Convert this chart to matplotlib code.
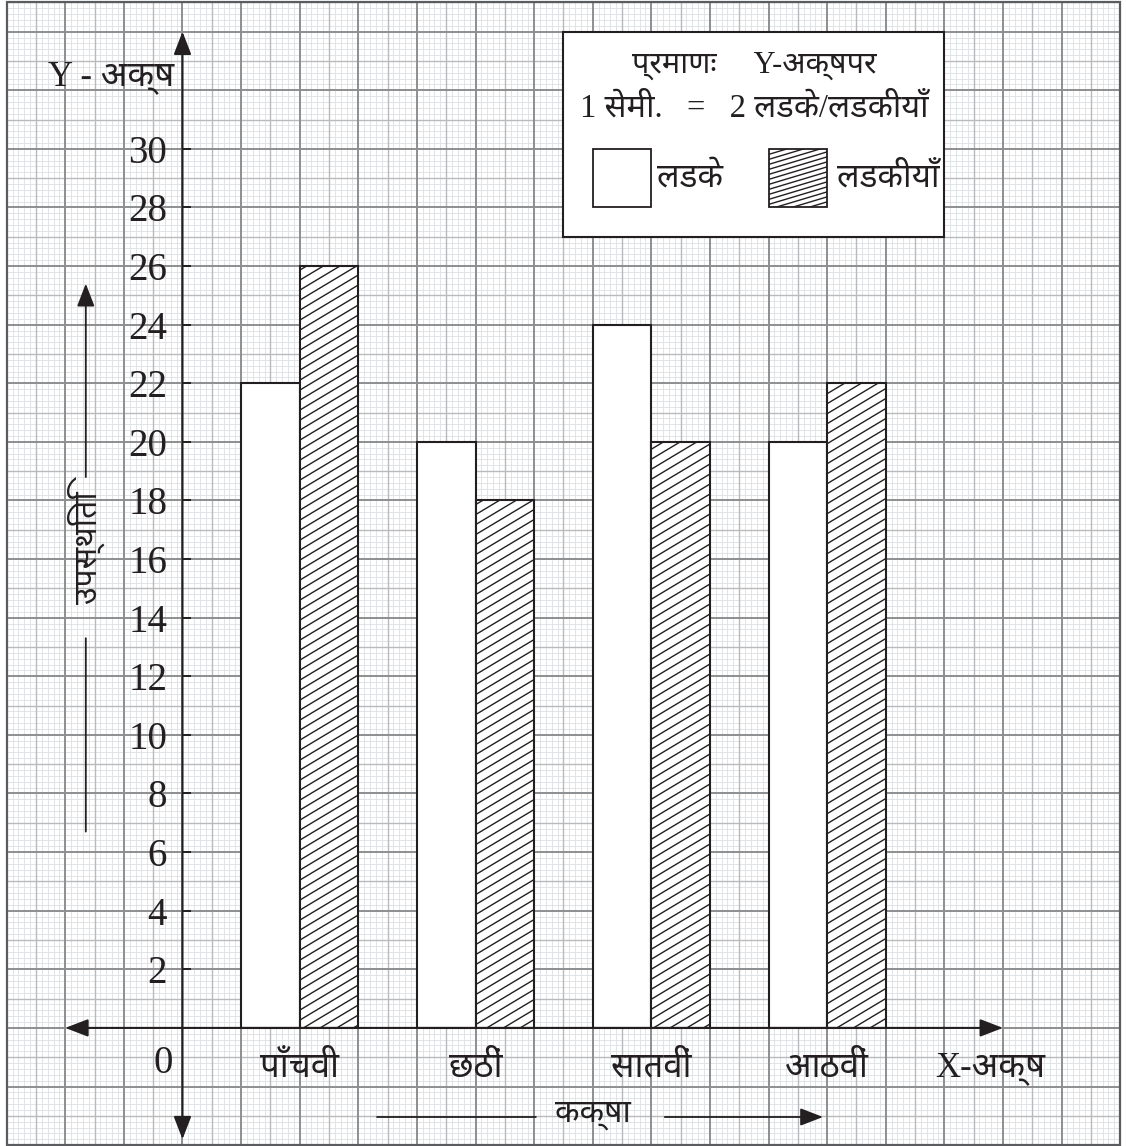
import numpy as np
import matplotlib
matplotlib.use('Agg')
import matplotlib.pyplot as plt
import matplotlib.hatch as mhatch
from matplotlib.path import Path
from matplotlib.collections import LineCollection
from matplotlib.patches import Rectangle
from matplotlib import font_manager
from matplotlib.ft2font import FT2Font

# ---------------- data ----------------
categories = ['पाँचवी', 'छठीं', 'सातवीं', 'आठवीं']
boys = [22, 20, 24, 20]
girls = [26, 18, 20, 22]
yticks = list(range(2, 31, 2))
series_names = ['लडके', 'लडकीयाँ']
x_title = 'X-अक्ष'
y_title = 'Y - अक्ष'
x_label = 'कक्षा'
y_label = 'उपस्थिति'
scale_line1 = 'प्रमाणः     Y-अक्षपर'
scale_line2 = '1 सेमी.   =   2 लडके/लडकीयाँ'

INK = '#231f20'

# ---------------- fonts ----------------
def find_deva():
    found = []
    for f in font_manager.fontManager.ttflist:
        try:
            if 0x0915 in FT2Font(f.fname).get_charmap():
                found.append(f.name)
        except Exception:
            pass
    for key in ['Noto Sans Devanagari', 'Noto Serif Devanagari', 'Lohit Devanagari',
                'FreeSans', 'FreeSerif', 'Mukta', 'Hind']:
        if key in found:
            return key
    return found[0] if found else None

deva = find_deva()
families = ['Liberation Serif'] + ([deva] if deva else []) + ['DejaVu Sans']
plt.rcParams['font.family'] = families
plt.rcParams['hatch.linewidth'] = 1.0
plt.rcParams['hatch.color'] = INK


# ---------------- slanted hatch (shallower than 45 degrees) ----------------
class SlantHatch(mhatch.HatchPatternBase):
    def __init__(self, hatch, density):
        n = hatch.count('/')
        if n >= 3:
            self.slope, self.N = 0.3, 20
        elif n >= 1:
            self.slope, self.N = 0.6, 10
        else:
            self.slope, self.N = 0.0, 0
        if self.N:
            kmin = -int(np.ceil(self.slope * self.N))
            self.ks = np.arange(kmin, self.N + 1)
            self.num_vertices = 2 * len(self.ks)
        else:
            self.ks = np.array([])
            self.num_vertices = 0

    def set_vertices_and_codes(self, vertices, codes):
        c = self.ks / self.N
        vertices[0::2, 0] = 0.0
        vertices[0::2, 1] = c
        vertices[1::2, 0] = 1.0
        vertices[1::2, 1] = c + self.slope
        codes[0::2] = Path.MOVETO
        codes[1::2] = Path.LINETO


mhatch._hatch_types[mhatch._hatch_types.index(mhatch.NorthEastHatch)] = SlantHatch

# ---------------- figure ----------------
fig = plt.figure(figsize=(11.26, 11.46), dpi=100)
ax = fig.add_axes([0, 0, 1, 1])
# x in cm from the y-axis, y in count units (1 cm = 2 units)
ax.set_xlim(-3.114, 16.10)
ax.set_ylim(-4.03, 35.08)
for s in ax.spines.values():
    s.set_visible(False)

# graph paper
X0, X1, Y0, Y1 = -3.0, 16.0, -4.0, 35.0
minor, mid, major = [], [], []
for i in range(int(round((X1 - X0) * 10)) + 1):
    x = X0 + i / 10
    seg = [(x, Y0), (x, Y1)]
    if i % 10 == 0:
        major.append(seg)
    elif i % 5 == 0:
        mid.append(seg)
    else:
        minor.append(seg)
for j in range(int(round((Y1 - Y0) * 5)) + 1):
    y = Y0 + j / 5
    seg = [(X0, y), (X1, y)]
    if j % 10 == 0:
        major.append(seg)
    elif j % 5 == 0:
        mid.append(seg)
    else:
        minor.append(seg)
ax.add_collection(LineCollection(minor, colors='#dde0e4', linewidths=0.6, zorder=0))
ax.add_collection(LineCollection(mid, colors='#b8babd', linewidths=1.0, zorder=0.1))
ax.add_collection(LineCollection(major, colors='#8c8e91', linewidths=1.4, zorder=0.2))
ax.add_patch(Rectangle((X0, Y0), X1 - X0, Y1 - Y0, fill=False, edgecolor='#5a5c5f',
                       linewidth=1.6, zorder=0.3))

# bars
idx = np.arange(len(categories))
left = 1 + 3 * idx
ax.bar(left, boys, width=1, align='edge', color='white', edgecolor=INK,
       linewidth=1.5, zorder=3)
ax.bar(left + 1, girls, width=1, align='edge', color='white', edgecolor=INK,
       linewidth=1.5, hatch='//', zorder=3)

# axes with ticks
ax.spines['left'].set_position(('data', 0))
ax.spines['bottom'].set_position(('data', 0))
ax.set_yticks(yticks)
ax.set_yticklabels([str(v) for v in yticks])
ax.tick_params(axis='y', direction='in', length=6.5, width=1.4, color=INK,
               pad=11, labelsize=28, labelcolor=INK)
ax.set_xticks(left + 1)
ax.set_xticklabels(categories)
ax.tick_params(axis='x', length=0, pad=17, labelsize=25, labelcolor=INK)

arrow_kw = dict(arrowstyle='<|-|>,head_length=0.7,head_width=0.27', color=INK,
                lw=1.5, mutation_scale=20, shrinkA=0, shrinkB=0)
ax.annotate('', xy=(0, 34), xytext=(0, -3.8), arrowprops=arrow_kw, zorder=4)
ax.annotate('', xy=(14, 0), xytext=(-2, 0), arrowprops=arrow_kw, zorder=4)

one_kw = dict(arrowstyle='-|>,head_length=0.7,head_width=0.27', color=INK,
              lw=1.3, mutation_scale=20, shrinkA=0, shrinkB=0)
line_kw = dict(arrowstyle='-', color=INK, lw=1.3, shrinkA=0, shrinkB=0)

# axis titles
ax.text(-1.22, 32.45, y_title, ha='center', va='center', fontsize=25, color=INK)
ax.text(13.78, -1.37, x_title, ha='center', va='center', fontsize=25, color=INK)
ax.text(-0.33, -1.2, '0', ha='center', va='center', fontsize=28, color=INK)

# x label with arrow
ax.text(7.0, -3.0, x_label, ha='center', va='center', fontsize=23, color=INK)
ax.annotate('', xy=(6.03, -3.04), xytext=(3.32, -3.04), arrowprops=line_kw)
ax.annotate('', xy=(10.93, -3.04), xytext=(8.23, -3.04), arrowprops=one_kw)

# y label with arrow
ax.text(-1.65, 16.4, y_label, ha='center', va='center', rotation=90, fontsize=23, color=INK)
ax.annotate('', xy=(-1.65, 25.4), xytext=(-1.65, 18.8), arrowprops=one_kw)
ax.annotate('', xy=(-1.65, 13.3), xytext=(-1.65, 6.7), arrowprops=line_kw)

# scale / legend box
ax.add_patch(Rectangle((6.5, 27.0), 6.5, 7.0, facecolor='white', edgecolor=INK,
                       linewidth=1.5, zorder=5))
ax.text(9.75, 32.85, scale_line1, ha='center', va='center', fontsize=22, color=INK, zorder=6)
ax.text(9.75, 31.4, scale_line2, ha='center', va='center', fontsize=23.5, color=INK, zorder=6)
ax.add_patch(Rectangle((7.0, 28.0), 1.0, 2.0, facecolor='white', edgecolor=INK,
                       linewidth=1.3, zorder=6))
ax.add_patch(Rectangle((10.0, 28.0), 1.0, 2.0, facecolor='white', edgecolor=INK,
                       linewidth=1.3, hatch='///', zorder=6))
ax.text(8.1, 29.0, series_names[0], ha='left', va='center', fontsize=24, color=INK, zorder=6)
ax.text(11.17, 29.0, series_names[1], ha='left', va='center', fontsize=24, color=INK, zorder=6)

fig.savefig('out.png', dpi=100)
